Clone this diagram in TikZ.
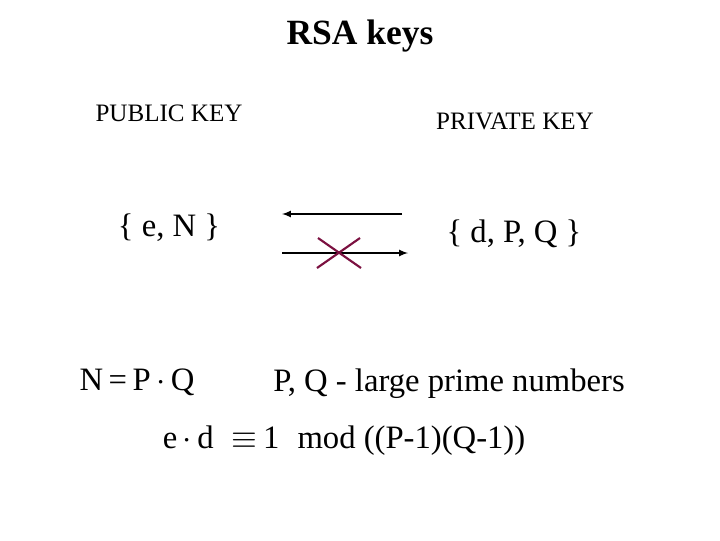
\documentclass[tikz,border=0pt]{standalone}
\usepackage{fontspec}
\setmainfont{Liberation Serif}
\usepackage{amsmath}
\begin{document}
\begin{tikzpicture}[x=0.75pt,y=-0.75pt,
  lbl/.style={inner sep=0pt,font=\fontsize{18.8}{22}\selectfont},
  big/.style={inner sep=0pt,font=\fontsize{24.5}{28}\selectfont},
  arr/.style={line width=1.3pt,-latex},
  cross/.style={line width=1.6pt,draw={rgb,255:red,123;green,16;blue,64}}]
\useasboundingbox (0,0) rectangle (720,540);
\node[inner sep=0pt,font=\fontsize{26.6}{30}\selectfont\bfseries] (title) at (360,36) {RSA keys};
\node[lbl] (pub) at (169,113) {PUBLIC KEY};
\node[lbl] (priv) at (515,121) {PRIVATE KEY};
\node[big] (en) at (169,228) {\{ e, N \}};
\node[big] (dpq) at (514,234) {\{ d, P, Q \}};
\coordinate (a1) at (402,214); \coordinate (a2) at (282,214);
\coordinate (b1) at (282,253); \coordinate (b2) at (408,253);
\draw[arr] (a1) -- (a2);
\draw[arr] (b1) -- (b2);
\coordinate (x1) at (318,238); \coordinate (x2) at (361,268);
\coordinate (x3) at (360,238); \coordinate (x4) at (317,268);
\draw[cross] (x1) -- (x2) (x3) -- (x4);
\node[big] (npq) at (137,382) {N\,=\,P\,$\cdot$\,Q};
\node[big] (pq) at (449,384) {P, Q - large prime numbers};
\node[big] (ed) at (344,441) {e\,$\cdot$\,d\;\;$\equiv$\,1\;\;mod ((P-1)(Q-1))};
\end{tikzpicture}
\end{document}
